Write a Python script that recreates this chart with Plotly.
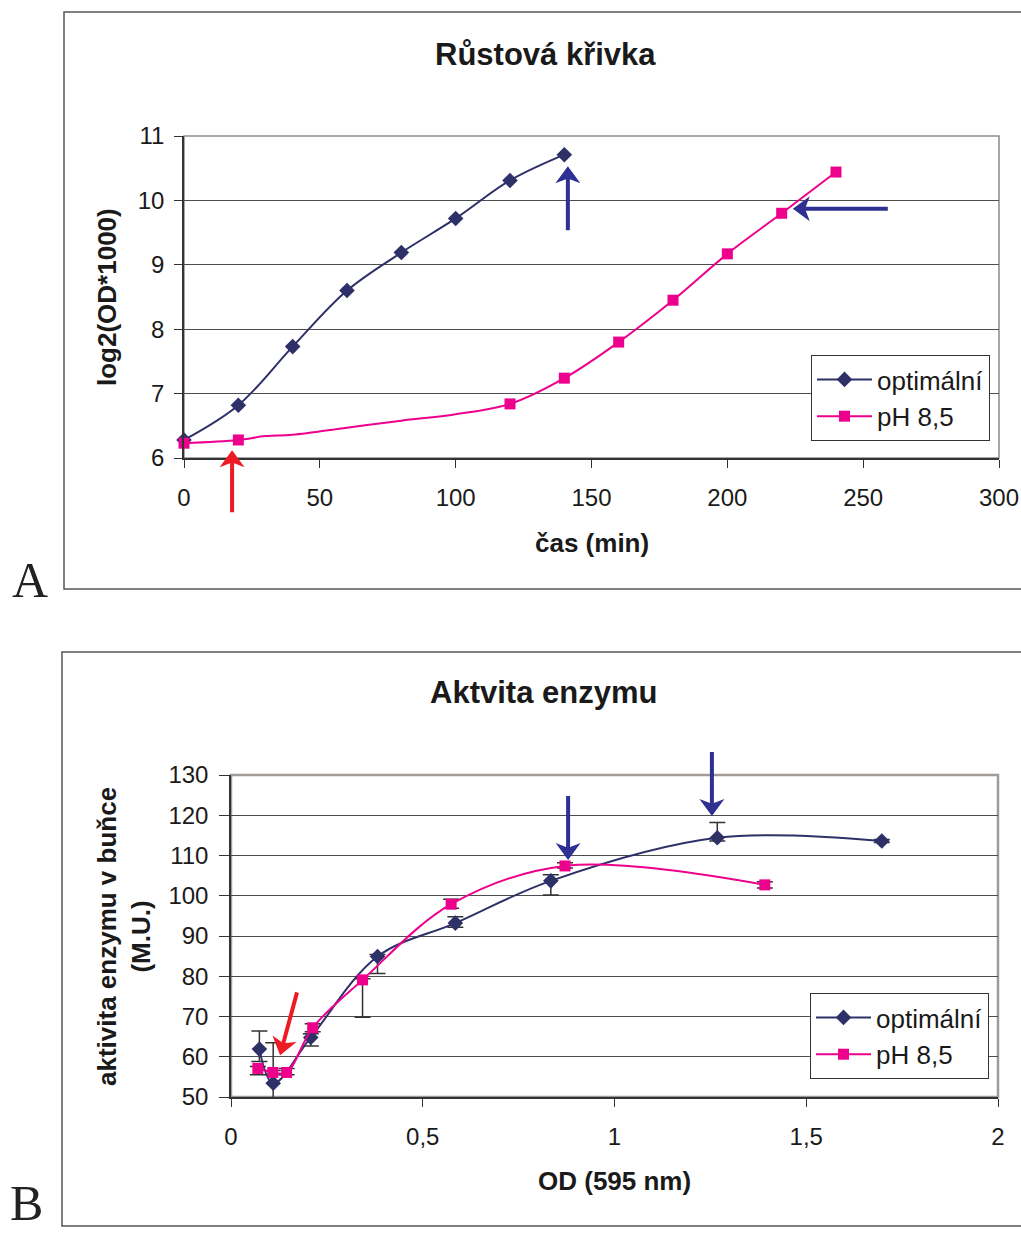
import math
import plotly.graph_objects as go

# ---- growth curve (panel A) ----
time_opt = [0, 20, 40, 60, 80, 100, 120, 140]
log_opt = [6.28, 6.82, 7.73, 8.60, 9.19, 9.72, 10.31, 10.71]

time_ph = [0, 20, 30, 40, 60, 80, 100, 120, 140, 160, 180, 200, 220, 240]
log_ph = [6.23, 6.28, 6.34, 6.36, 6.47, 6.58, 6.68, 6.84, 7.24, 7.80, 8.45, 9.17, 9.80, 10.44]
time_ph_marked = [0, 20, 120, 140, 160, 180, 200, 220, 240]

x_ticks_a = [0, 50, 100, 150, 200, 250, 300]
y_ticks_a = [6, 7, 8, 9, 10, 11]

# ---- enzyme activity (panel B) ----
od_opt = [0.074, 0.110, 0.208, 0.382, 0.585, 0.834, 1.268, 1.697]
act_opt = [61.9, 53.4, 64.8, 84.9, 93.2, 103.7, 114.4, 113.6]
err_opt_plus = [4.5, 10.1, 0.9, 0.5, 1.6, 1.5, 3.8, 0.4]
err_opt_minus = [3.1, 4.0, 2.1, 4.2, 1.0, 3.5, 0.8, 0.4]

od_ph = [0.070, 0.109, 0.145, 0.213, 0.343, 0.574, 0.871, 1.392]
act_ph = [57.1, 56.1, 56.1, 67.2, 79.1, 97.9, 107.4, 102.7]
err_ph_plus = [0.5, 0.5, 1.0, 1.0, 0.3, 1.2, 0.8, 0.8]
err_ph_minus = [1.6, 0.5, 0.6, 1.0, 9.3, 1.0, 0.5, 0.8]

x_ticks_b = [0, 0.5, 1, 1.5, 2]
x_tick_text_b = ["0", "0,5", "1", "1,5", "2"]
y_ticks_b = [50, 60, 70, 80, 90, 100, 110, 120, 130]

names = ["optimální", "pH 8,5"]

# ---- page geometry ----
W, H = 1021, 1234
NAVY = "#2E3068"
PINK = "#EC008C"
ARROW_BLUE = "#2E3192"
ARROW_RED = "#ED1C24"
FONT = "Liberation Sans"


def px(x):
    return x / W


def py(y):
    return 1 - y / H


dom_xa = [px(184), px(999)]
dom_ya = [py(458), py(136)]
dom_xb = [px(231), px(998)]
dom_yb = [py(1097), py(775)]
range_xa, range_ya = [0, 300], [6, 11]
range_xb, range_yb = [0, 2], [50, 130]


def to_paper(v, rng, dom):
    return dom[0] + (v - rng[0]) / (rng[1] - rng[0]) * (dom[1] - dom[0])


fig = go.Figure()

# panel A series
lookup = dict(zip(time_ph, log_ph))
fig.add_trace(go.Scatter(
    x=time_opt, y=log_opt, mode="lines+markers", xaxis="x", yaxis="y",
    line=dict(color=NAVY, width=2, shape="spline", smoothing=1),
    marker=dict(symbol="diamond", size=12, color=NAVY),
    showlegend=False, cliponaxis=False))
fig.add_trace(go.Scatter(
    x=time_ph, y=log_ph, mode="lines", xaxis="x", yaxis="y",
    line=dict(color=PINK, width=2, shape="spline", smoothing=1),
    showlegend=False))
fig.add_trace(go.Scatter(
    x=time_ph_marked, y=[lookup[t] for t in time_ph_marked], mode="markers",
    xaxis="x", yaxis="y",
    marker=dict(symbol="square", size=11, color=PINK),
    showlegend=False, cliponaxis=False))

# panel B series
fig.add_trace(go.Scatter(
    x=od_opt, y=act_opt, mode="lines+markers", xaxis="x2", yaxis="y2",
    line=dict(color=NAVY, width=2, shape="spline", smoothing=1),
    marker=dict(symbol="diamond", size=12, color=NAVY),
    error_y=dict(type="data", array=err_opt_plus, arrayminus=err_opt_minus,
                 color="#333333", thickness=1.5, width=8),
    showlegend=False, cliponaxis=False))
fig.add_trace(go.Scatter(
    x=od_ph, y=act_ph, mode="lines+markers", xaxis="x2", yaxis="y2",
    line=dict(color=PINK, width=2, shape="spline", smoothing=1),
    marker=dict(symbol="square", size=11, color=PINK),
    error_y=dict(type="data", array=err_ph_plus, arrayminus=err_ph_minus,
                 color="#333333", thickness=1.5, width=8),
    showlegend=False, cliponaxis=False))

# legend entries
for lg in ["legend", "legend2"]:
    fig.add_trace(go.Scatter(
        x=[None], y=[None], mode="lines+markers", name=names[0], legend=lg,
        line=dict(color=NAVY, width=2), marker=dict(symbol="diamond", size=12, color=NAVY)))
    fig.add_trace(go.Scatter(
        x=[None], y=[None], mode="lines+markers", name=names[1], legend=lg,
        line=dict(color=PINK, width=2), marker=dict(symbol="square", size=11, color=PINK)))

tickfont = dict(family=FONT, size=24, color="#1a1a1a")
common_x = dict(showgrid=False, zeroline=False, showline=True, linecolor="#333333",
                linewidth=1.5, ticks="outside", ticklen=8, tickcolor="#333333",
                tickfont=tickfont, fixedrange=True, automargin=False,
                ticklabelstandoff=9)
common_y = dict(showgrid=True, gridcolor="#4d4d4d", gridwidth=1, zeroline=False,
                showline=True, linecolor="#333333", linewidth=1.5, ticks="outside",
                tickcolor="#333333", tickfont=tickfont, fixedrange=True, automargin=False)

shapes = []
# outer panel frames
shapes.append(dict(type="rect", xref="paper", yref="paper", x0=px(64), x1=px(1040),
                   y0=py(589), y1=py(12), line=dict(color="#555555", width=1.5)))
shapes.append(dict(type="rect", xref="paper", yref="paper", x0=px(62), x1=px(1040),
                   y0=py(1226), y1=py(652), line=dict(color="#555555", width=1.5)))
# plot-area borders
shapes.append(dict(type="rect", xref="paper", yref="paper", x0=dom_xa[0], x1=dom_xa[1],
                   y0=dom_ya[0], y1=dom_ya[1], line=dict(color="#8c8c8c", width=1.5),
                   layer="below"))
shapes.append(dict(type="rect", xref="paper", yref="paper", x0=dom_xb[0], x1=dom_xb[1],
                   y0=dom_yb[0], y1=dom_yb[1], line=dict(color="#a39b98", width=2.5),
                   layer="below"))


def arrow(tip_x, tip_y, xr, yr, dom_x, dom_y, direction, length, color):
    """Block arrow drawn in pixels around a tip given in data units."""
    ax = to_paper(tip_x, xr, dom_x)
    ay = to_paper(tip_y, yr, dom_y)
    ux, uy = direction
    n = math.hypot(ux, uy)
    ux, uy = ux / n, uy / n          # pointing direction (screen px, y up)
    vx, vy = -uy, ux                 # perpendicular
    pts = [(0, 0), (-17, 12.5), (-13, 2), (-length, 2),
           (-length, -2), (-13, -2), (-17, -12.5)]
    coords = [(a * ux + b * vx, a * uy + b * vy) for a, b in pts]
    path = "M" + " L".join(f"{cx:.2f},{cy:.2f}" for cx, cy in coords) + " Z"
    return dict(type="path", xref="paper", yref="paper", xsizemode="pixel",
                ysizemode="pixel", xanchor=ax, yanchor=ay, path=path,
                fillcolor=color, line=dict(width=0), layer="above")


shapes.append(arrow(17.7, 6.12, range_xa, range_ya, dom_xa, dom_ya, (0, 1), 62, ARROW_RED))
shapes.append(arrow(141.3, 10.53, range_xa, range_ya, dom_xa, dom_ya, (0, 1), 64, ARROW_BLUE))
shapes.append(arrow(224.1, 9.87, range_xa, range_ya, dom_xa, dom_ya, (-1, 0), 95, ARROW_BLUE))
shapes.append(arrow(0.128, 60.4, range_xb, range_yb, dom_xb, dom_yb, (-17, -63), 65, ARROW_RED))
shapes.append(arrow(0.879, 108.9, range_xb, range_yb, dom_xb, dom_yb, (0, -1), 64, ARROW_BLUE))
shapes.append(arrow(1.254, 119.8, range_xb, range_yb, dom_xb, dom_yb, (0, -1), 64, ARROW_BLUE))

ann = []
title_font = dict(family=FONT, size=31, color="#1a1a1a")
axis_font = dict(family=FONT, size=26, color="#1a1a1a")
ann.append(dict(text="<b>Růstová křivka</b>", x=px(545), y=py(55), xref="paper", yref="paper",
                showarrow=False, font=title_font, xanchor="center", yanchor="middle"))
ann.append(dict(text="<b>Aktvita enzymu</b>", x=px(543), y=py(692), xref="paper", yref="paper",
                showarrow=False, font=title_font, xanchor="center", yanchor="middle"))
ann.append(dict(text="<b>log2(OD*1000)</b>", x=px(107), y=py(297), xref="paper", yref="paper",
                showarrow=False, font=axis_font, textangle=-90, xanchor="center", yanchor="middle"))
ann.append(dict(text="<b>čas (min)</b>", x=px(592), y=py(543), xref="paper", yref="paper",
                showarrow=False, font=axis_font, xanchor="center", yanchor="middle"))
ann.append(dict(text="<b>aktivita enzymu v buňce<br>(M.U.)</b>", x=px(124), y=py(937),
                xref="paper", yref="paper", showarrow=False, font=axis_font, textangle=-90,
                xanchor="center", yanchor="middle"))
ann.append(dict(text="<b>OD (595 nm)</b>", x=px(614), y=py(1181), xref="paper", yref="paper",
                showarrow=False, font=axis_font, xanchor="center", yanchor="middle"))
letter_font = dict(family="Liberation Serif", size=50, color="#222222")
ann.append(dict(text="A", x=px(10), y=py(580), xref="paper", yref="paper", showarrow=False,
                font=letter_font, xanchor="left", yanchor="middle"))
ann.append(dict(text="B", x=px(8), y=py(1233), xref="paper", yref="paper", showarrow=False,
                font=letter_font, xanchor="left", yanchor="bottom"))

legend_style = dict(bgcolor="white", bordercolor="#333333", borderwidth=1,
                    font=dict(family=FONT, size=26, color="#1a1a1a"),
                    xanchor="left", yanchor="top", traceorder="normal", itemwidth=55)

fig.update_layout(
    width=W, height=H, margin=dict(l=0, r=0, t=0, b=0, autoexpand=False),
    paper_bgcolor="white", plot_bgcolor="white",
    xaxis=dict(domain=dom_xa, range=range_xa, tickvals=x_ticks_a, anchor="y", **common_x),
    yaxis=dict(domain=dom_ya, range=range_ya, tickvals=y_ticks_a, anchor="x",
               ticklen=8, ticklabelstandoff=5, **common_y),
    xaxis2=dict(domain=dom_xb, range=range_xb, tickvals=x_ticks_b, ticktext=x_tick_text_b,
                anchor="y2", **common_x),
    yaxis2=dict(domain=dom_yb, range=range_yb, tickvals=y_ticks_b, anchor="x2",
                ticklen=10, ticklabelstandoff=6, **common_y),
    legend=dict(x=px(811), y=py(355), **legend_style),
    legend2=dict(x=px(810), y=py(993), **legend_style),
    shapes=shapes, annotations=ann,
)

fig.write_html("out.html")
